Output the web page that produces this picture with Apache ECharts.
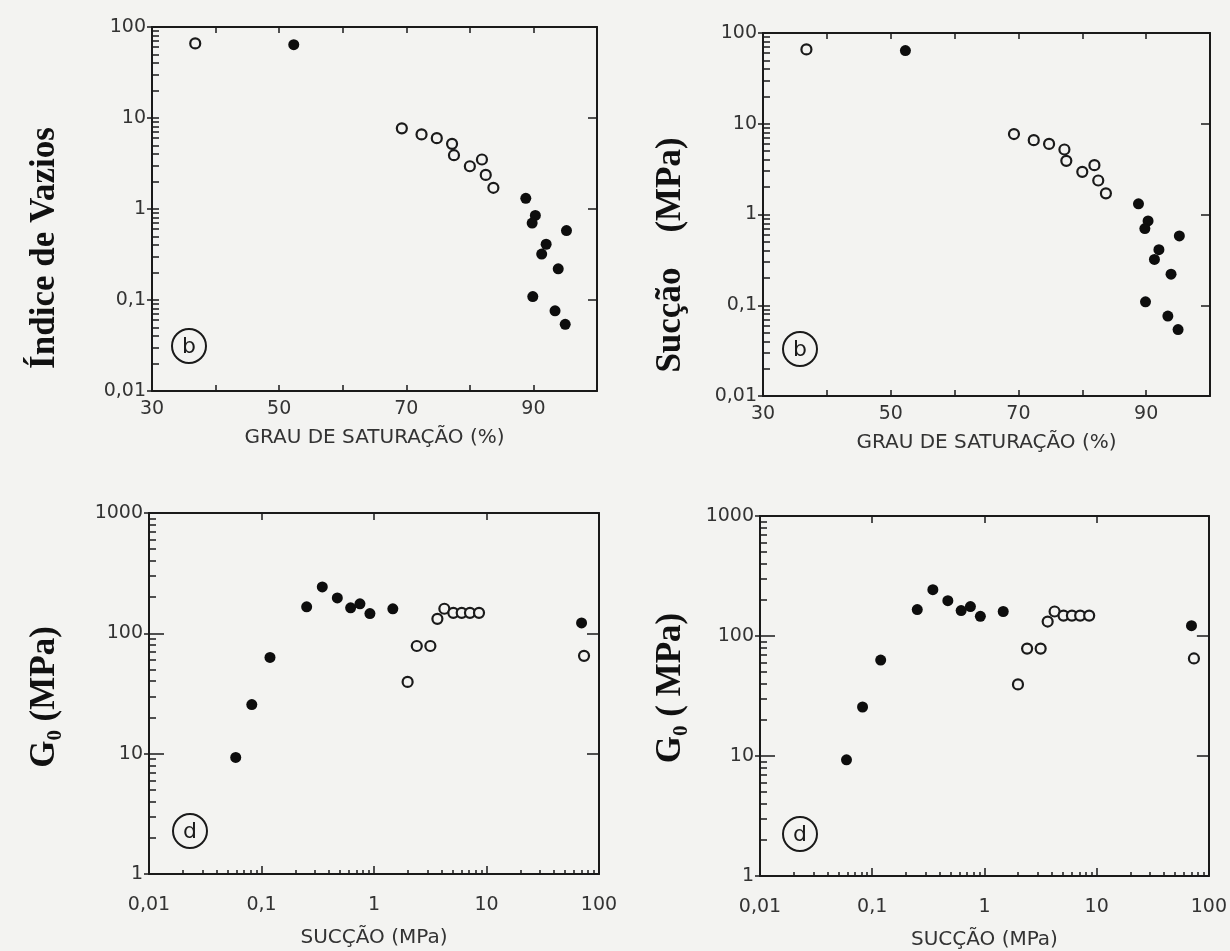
<!DOCTYPE html>
<html>
<head>
<meta charset="utf-8">
<script src="https://cdn.jsdelivr.net/npm/echarts@6/dist/echarts.min.js"></script>
<style>
html, body { margin: 0; padding: 0; background: #f3f3f1; }
#chart { width: 1230px; height: 951px; }
</style>
</head>
<body>
<div id="chart"></div>
<script>
// grau de saturacao (%) x succao (MPa) -- paineis de cima
const satOpenX = [36.8, 69.3, 72.4, 74.8, 77.2, 77.5, 80.0, 81.9, 82.5, 83.7]
const satOpenY = [66, 7.7, 6.6, 6.0, 5.2, 3.9, 2.95, 3.5, 2.37, 1.71]
const satFilledX = [52.3, 88.8, 90.3, 89.8, 95.2, 92.0, 91.3, 93.9, 89.9, 93.4, 95.0]
const satFilledY = [64, 1.31, 0.85, 0.70, 0.58, 0.41, 0.32, 0.22, 0.109, 0.076, 0.054]

// succao (MPa) x G0 (MPa) -- paineis de baixo
const sucFilledX = [0.059, 0.082, 0.119, 0.252, 0.347, 0.472, 0.62, 0.75, 0.92, 1.47, 70]
const sucFilledY = [9.3, 25.6, 63, 166, 243, 197, 163, 176, 146, 160, 122]
const sucOpenX = [1.99, 2.40, 3.17, 3.66, 4.22, 5.07, 6.02, 7.13, 8.58, 73.6]
const sucOpenY = [39.5, 78.5, 78.5, 132, 160, 148, 148, 148, 148, 65]

// rotulos dos eixos
const satXLabels = [30, 50, 70, 90]
const satYLabels = ['0,01', '0,1', '1', '10', '100']
const sucXLabels = ['0,01', '0,1', '1', '10', '100']
const g0YLabels = ['1', '10', '100', '1000']
const minorSteps = [2, 3, 4, 5, 6, 7, 8, 9]

const ink = '#1a1a1a'
const bg = '#f3f3f1'
const labelStyle = { color: '#333', fontSize: 19, fontFamily: 'DejaVu Sans' }
const titleStyle = { color: '#333', fontSize: 20, fontFamily: 'DejaVu Sans' }

function majorTicks(minExp, maxExp) {
  let out = []
  for (let e = minExp; e <= maxExp; e++) out.push(e)
  return out
}

function minorTicks(minExp, maxExp) {
  let out = []
  for (let e = minExp; e < maxExp; e++) {
    minorSteps.forEach(s => out.push(e + Math.log10(s)))
  }
  return out
}

function pairs(xs, ys) {
  return xs.map((x, i) => [x, ys[i]])
}

const grids = [
  { left: 152, top: 27, width: 445, height: 364 },
  { left: 763, top: 33, width: 447, height: 363 },
  { left: 149, top: 513, width: 450, height: 361 },
  { left: 760, top: 516, width: 450, height: 361 }
]

let xAxis = []
let yAxis = []
let series = []

const line = { show: true, onZero: false, lineStyle: { color: ink, width: 2 } }
const noLine = { show: false, onZero: false }

// eixo so com tracos (escala linear em log10), sem linha nem rotulo
function tickAxis(g, pos, lo, hi, values, inside, len) {
  return {
    gridIndex: g, type: 'value', min: lo, max: hi, position: pos,
    axisLine: noLine, splitLine: { show: false }, axisLabel: { show: false },
    axisTick: { inside: inside, length: len, customValues: values, lineStyle: { color: ink, width: 1.5 } }
  }
}

function addPanel(g, kind) {
  const top = kind === 'sat'
  const yMin = top ? -2 : 0
  const yMax = top ? 2 : 3
  const yLabels = top ? satYLabels : g0YLabels

  const xi = xAxis.length
  if (top) {
    xAxis.push({
      gridIndex: g, type: 'value', min: 30, max: 100, interval: 10,
      axisLine: line, splitLine: { show: false },
      axisTick: { inside: true, length: 6, lineStyle: { color: ink, width: 1.5 } },
      axisLabel: Object.assign({ margin: 9, formatter: v => satXLabels.includes(v) ? String(v) : '' }, labelStyle),
      name: 'GRAU DE SATURAÇÃO (%)', nameLocation: 'middle', nameGap: 37,
      nameTextStyle: titleStyle
    })
    xAxis.push({
      gridIndex: g, type: 'value', min: 30, max: 100, interval: 10, position: 'top',
      axisLine: line, splitLine: { show: false }, axisLabel: { show: false },
      axisTick: { inside: true, length: 6, lineStyle: { color: ink, width: 1.5 } }
    })
  } else {
    xAxis.push({
      gridIndex: g, type: 'log', logBase: 10, min: 0.01, max: 100,
      axisLine: line, splitLine: { show: false },
      axisTick: { inside: true, length: 8, lineStyle: { color: ink, width: 1.5 } },
      axisLabel: Object.assign({ margin: 22, formatter: v => sucXLabels[Math.round(Math.log10(v)) + 2] }, labelStyle),
      name: 'SUCÇÃO (MPa)', nameLocation: 'middle', nameGap: 54,
      nameTextStyle: titleStyle
    })
    xAxis.push({
      gridIndex: g, type: 'log', logBase: 10, min: 0.01, max: 100, position: 'top',
      axisLine: line, splitLine: { show: false }, axisLabel: { show: false },
      axisTick: { inside: true, length: 7, lineStyle: { color: ink, width: 1.5 } }
    })
    xAxis.push(tickAxis(g, 'bottom', -2, 2, minorTicks(-2, 2), true, 4))
  }

  const yi = yAxis.length
  yAxis.push({
    gridIndex: g, type: 'log', logBase: 10, min: Math.pow(10, yMin), max: Math.pow(10, yMax),
    axisLine: line, splitLine: { show: false },
    axisTick: { inside: false, length: 5, lineStyle: { color: ink, width: 1.5 } },
    axisLabel: Object.assign({ margin: 6, formatter: v => yLabels[Math.round(Math.log10(v)) - yMin] }, labelStyle)
  })
  yAxis.push(tickAxis(g, 'left', yMin, yMax, minorTicks(yMin, yMax), true, 7))
  yAxis.push(tickAxis(g, 'left', yMin, yMax, majorTicks(yMin + 1, yMax - 1), true, top ? 7 : 15))
  yAxis.push({
    gridIndex: g, type: 'log', logBase: 10, min: Math.pow(10, yMin), max: Math.pow(10, yMax), position: 'right',
    axisLine: line, splitLine: { show: false }, axisLabel: { show: false },
    axisTick: { inside: true, length: top ? 9 : 12, lineStyle: { color: ink, width: 1.5 } }
  })

  const open = top ? pairs(satOpenX, satOpenY) : pairs(sucOpenX, sucOpenY)
  const filled = top ? pairs(satFilledX, satFilledY) : pairs(sucFilledX, sucFilledY)
  series.push({
    type: 'scatter', xAxisIndex: xi, yAxisIndex: yi, data: open,
    symbol: 'circle', symbolSize: 10, silent: true,
    itemStyle: { color: bg, borderColor: ink, borderWidth: 2.2, opacity: 1 }
  })
  series.push({
    type: 'scatter', xAxisIndex: xi, yAxisIndex: yi, data: filled,
    symbol: 'circle', symbolSize: 11, silent: true,
    itemStyle: { color: '#0d0d0d', opacity: 1 }
  })
}

addPanel(0, 'sat')
addPanel(1, 'sat')
addPanel(2, 'suc')
addPanel(3, 'suc')

function badge(x, y, letter) {
  return [
    { type: 'circle', shape: { cx: x, cy: y, r: 17 }, style: { fill: 'none', stroke: ink, lineWidth: 2 } },
    { type: 'text', x: x, y: y + 1, style: { text: letter, font: '22px DejaVu Sans', fill: ink, align: 'center', verticalAlign: 'middle' } }
  ]
}

function yTitle(x, y, text) {
  return {
    type: 'text', x: x, y: y, rotation: Math.PI / 2,
    style: { text: text, font: 'bold 35px "Liberation Serif"', fill: '#111', align: 'center', verticalAlign: 'middle' }
  }
}

let graphic = [].concat(
  badge(189, 346, 'b'), badge(800, 349, 'b'), badge(190, 831, 'd'), badge(800, 834, 'd'),
  [
    yTitle(45, 248, 'Índice de Vazios'),
    yTitle(671, 255, 'Sucção    (MPa)'),
    yTitle(45, 697, 'G₀ (MPa)'),
    yTitle(671, 688, 'G₀ ( MPa)')
  ]
)

let ch = echarts.init(document.getElementById('chart'))
ch.setOption({
  backgroundColor: bg,
  animation: false,
  grid: grids,
  xAxis: xAxis,
  yAxis: yAxis,
  series: series,
  graphic: graphic
})
</script>
</body>
</html>
